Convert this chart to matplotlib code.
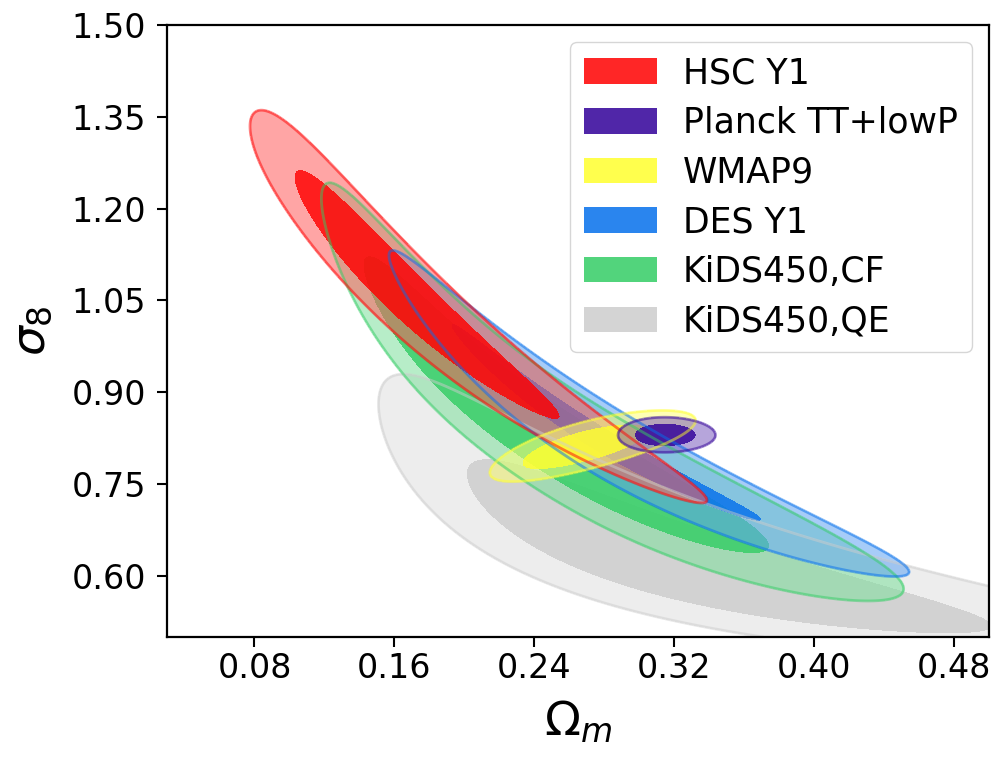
import numpy as np
import matplotlib
matplotlib.use("Agg")
import matplotlib.pyplot as plt
from matplotlib.colors import to_rgb
from matplotlib.patches import Patch
from matplotlib.ticker import FormatStrFormatter

# constraint summaries in (Omega_m, sigma_8)
# each posterior is built in log space and bent along the lensing degeneracy:
#   u = ln(Om/om0), v = ln(s8/s80), p = v + slope*u + bend*u^2
#   chi2 = |u/width_om|^shape + (p/(width_s8*exp(flare*u)))^2
# core narrows the 68% region across the degeneracy
names = ["KiDS450,QE", "KiDS450,CF", "DES Y1", "HSC Y1", "WMAP9", "Planck TT+lowP"]
om_center = [0.318, 0.231, 0.267, 0.162, 0.267, 0.3145]
s8_center = [0.625, 0.858, 0.842, 1.072, 0.810, 0.830]
slope = [0.43, 0.555, 0.58, 0.415, -0.24, 0.0]
bend = [-0.04, 0.05, 0.07, 0.16, 0.0, 0.0]
width_om = [0.30, 0.365, 0.214, 0.297, 0.088, 0.0356]
width_s8 = [0.068, 0.048, 0.031, 0.031, 0.0197, 0.0139]
flare = [-0.30, 0.30, 0.40, 0.0, 0.0, 0.0]
shape = [2.0, 3.0, 2.0, 2.0, 2.0, 2.0]
core = [1.0, 1.0, 0.55, 1.0, 1.0, 1.0]
colors = ["#cdcdcd", "#34cd65", "#0570ec", "#ff0000", "#ffff2e", "#310099"]

legend_order = ["HSC Y1", "Planck TT+lowP", "WMAP9", "DES Y1", "KiDS450,CF", "KiDS450,QE"]

chi2_68, chi2_95 = 2.30, 6.17  # two-parameter confidence levels


def tint(c, frac):
    # blend a colour towards white, keeping frac of the original
    rgb = np.array(to_rgb(c))
    return tuple(1 - frac * (1 - rgb))


om_grid = np.linspace(0.03, 0.50, 700)
s8_grid = np.linspace(0.50, 1.50, 700)
OM, S8 = np.meshgrid(om_grid, s8_grid)

fig = plt.figure(figsize=(10, 7.59), dpi=100)
ax = fig.add_axes([0.167, 0.1607, 0.822, 0.8063])

for i, name in enumerate(names):
    u = np.log(OM / om_center[i])
    v = np.log(S8 / s8_center[i])
    p = v + slope[i] * u + bend[i] * u**2
    along = np.abs(u / width_om[i])**shape[i]
    across = width_s8[i] * np.exp(flare[i] * u)
    chi2_out = along + (p / across)**2
    chi2_in = along + (p / (across * core[i]))**2
    c = colors[i]
    ax.contourf(OM, S8, chi2_out, levels=[0, chi2_95], colors=[tint(c, 0.64)],
                alpha=0.55)
    ax.contourf(OM, S8, chi2_in, levels=[0, chi2_68], colors=[c], alpha=0.82)
    ax.contour(OM, S8, chi2_out, levels=[chi2_95], colors=[c], alpha=0.5,
               linewidths=2)

ax.set_xlim(0.03, 0.50)
ax.set_ylim(0.50, 1.50)
ax.set_xticks(np.arange(0.08, 0.49, 0.08))
ax.set_yticks(np.arange(0.60, 1.51, 0.15))
ax.xaxis.set_major_formatter(FormatStrFormatter("%.2f"))
ax.yaxis.set_major_formatter(FormatStrFormatter("%.2f"))
ax.tick_params(labelsize=24, width=1.5, length=7)
ax.tick_params(axis="y", pad=8)
for s in ax.spines.values():
    s.set_linewidth(1.6)

ax.set_xlabel(r"$\Omega_m$", fontsize=34, labelpad=10)
ax.set_ylabel(r"$\sigma_8$", fontsize=34, labelpad=12)

handles = [Patch(facecolor=colors[names.index(n)], alpha=0.85, edgecolor="none",
                 label=n) for n in legend_order]
ax.legend(handles=handles, loc="upper right", fontsize=25, handlelength=2.1,
          handleheight=0.75, handletextpad=0.75, labelspacing=0.45,
          borderpad=0.4, borderaxespad=0.5)

fig.savefig("out.png", dpi=100)
